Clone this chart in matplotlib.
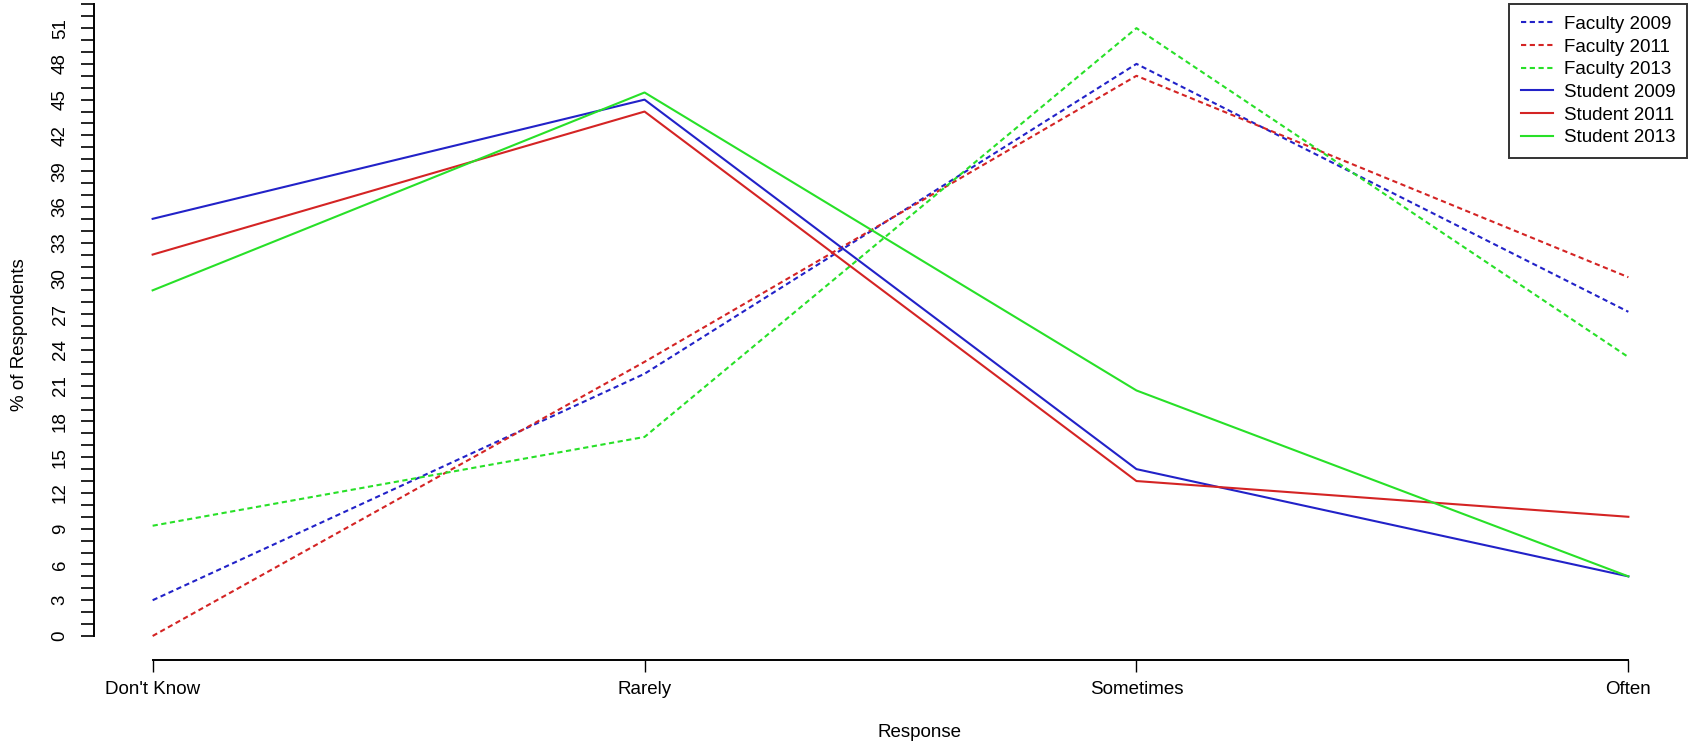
import numpy as np
import matplotlib
matplotlib.use("Agg")
import matplotlib.pyplot as plt

plt.rcParams['font.family'] = ['Liberation Sans', 'DejaVu Sans']

responses = ["Don't Know", "Rarely", "Sometimes", "Often"]

faculty_2009 = [3, 22, 48, 27.2]
faculty_2011 = [0, 23, 47, 30.1]
faculty_2013 = [9.25, 16.7, 51, 23.4]
student_2009 = [35, 45, 14, 5]
student_2011 = [32, 44, 13, 10]
student_2013 = [29, 45.6, 20.6, 5]

blue = '#2222c8'
red = '#d42424'
green = '#28e028'

x = np.arange(1, len(responses) + 1)

fig = plt.figure(figsize=(16.97, 7.52), dpi=100)
ax = fig.add_axes([0.05516, 0.12194, 0.93918, 0.87806])

dash = (0, (2.5, 1.7))
lw = 1.5
ax.plot(x, faculty_2009, color=blue, lw=lw, ls=dash, label='Faculty 2009')
ax.plot(x, faculty_2011, color=red, lw=lw, ls=dash, label='Faculty 2011')
ax.plot(x, faculty_2013, color=green, lw=lw, ls=dash, label='Faculty 2013')
ax.plot(x, student_2009, color=blue, lw=lw, label='Student 2009')
ax.plot(x, student_2011, color=red, lw=lw, label='Student 2011')
ax.plot(x, student_2013, color=green, lw=lw, label='Student 2013')

ax.set_xlim(0.88, 4.12)
ax.set_ylim(-2.04, 53.36)

# R-style detached axes
for s in ['top', 'right']:
    ax.spines[s].set_visible(False)
ax.spines['left'].set_bounds(0, 53)
ax.spines['bottom'].set_bounds(1, 4)
ax.spines['left'].set_linewidth(1.4)
ax.spines['bottom'].set_linewidth(1.4)

fs = 13.5
yt = np.arange(0, 54)
ax.set_yticks(yt)
ax.set_yticklabels([str(v) if v % 3 == 0 else '' for v in yt],
                   rotation=90, va='center')
ax.set_xticks(x)
ax.set_xticklabels(responses)
ax.tick_params(axis='y', length=9.4, width=1.2, pad=8.5, labelsize=fs)
ax.tick_params(axis='x', length=8.6, width=1.0, pad=6.5, labelsize=fs)

ax.set_xlabel('Response', fontsize=fs)
ax.xaxis.set_label_coords(0.5185, -0.0965)
ax.set_ylabel('% of Respondents', fontsize=fs)
ax.yaxis.set_label_coords(-0.0412, 0.4927)

leg = ax.legend(loc='upper right', bbox_to_anchor=(1687 / 1697, 1 - 4 / 752),
                bbox_transform=fig.transFigure, fontsize=fs, frameon=True,
                fancybox=False, edgecolor='black', borderaxespad=0,
                handlelength=1.7, handletextpad=0.6, borderpad=0.62,
                labelspacing=0.3)
leg.get_frame().set_linewidth(1.4)

fig.savefig('out.png', dpi=100)
